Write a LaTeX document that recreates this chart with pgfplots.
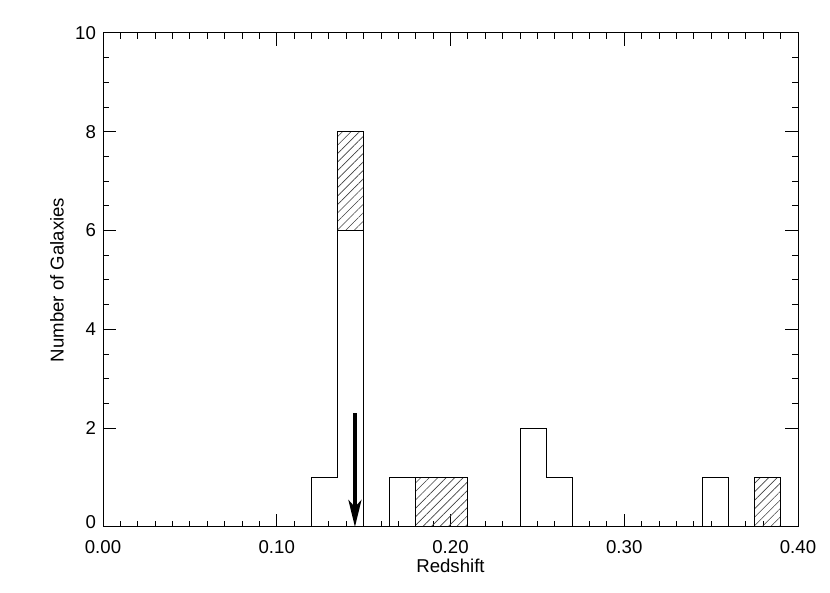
\documentclass[border=0pt]{standalone}
\usepackage{fontspec}
\setmainfont{Liberation Sans}
\usepackage{pgfplots}
\pgfplotsset{compat=1.18}
\usepgfplotslibrary{fillbetween}
\usetikzlibrary{patterns.meta,arrows.meta}
\begin{document}
\begin{tikzpicture}[font=\fontsize{9.3}{11}\selectfont]
% page frame, same proportions as the reference
\path (-51.5pt,-33pt) rectangle (363.5pt,263.5pt);
\begin{axis}[
    at={(0pt,0pt)}, anchor=south west,
    width=347.5pt, height=247pt, scale only axis,
    xmin=0, xmax=0.4, ymin=0, ymax=10,
    xtick={0,0.1,0.2,0.3,0.4}, minor x tick num=9,
    ytick={2,4,6,8,10}, minor y tick num=3,
    extra y ticks={0},
    extra y tick style={yticklabel style={yshift=2.7pt}},
    scaled x ticks=false,
    xticklabel style={/pgf/number format/fixed,
        /pgf/number format/fixed zerofill,
        /pgf/number format/precision=2, yshift=-3pt},
    /pgf/number format/assume math mode=true,
    major tick length=6.5pt, minor tick length=3.2pt,
    axis line style={line width=0.5pt},
    every tick/.style={black, line width=0.5pt},
    xlabel={Redshift}, ylabel={Number of Galaxies},
    every axis x label/.style={at={(axis description cs:0.5,0)},
        yshift=-19.5pt, anchor=center},
    every axis y label/.style={at={(axis description cs:0,0.5)},
        xshift=-23pt, rotate=90, anchor=center},
    clip=false,
]

% total sample (bin width 0.015)
\addplot[const plot, black, line width=0.5pt, name path=total] coordinates {
    (0,0)(0.12,1)(0.135,8)(0.15,0)(0.165,1)(0.21,0)(0.24,2)(0.255,1)
    (0.27,0)(0.345,1)(0.36,0)(0.375,1)(0.39,0)(0.4,0)
};
% open histogram
\addplot[const plot, black, line width=0.5pt, name path=open] coordinates {
    (0,0)(0.12,1)(0.135,6)(0.15,0)(0.165,1)(0.18,0)(0.24,2)(0.255,1)
    (0.27,0)(0.345,1)(0.36,0)(0.4,0)
};
% hatched part
\addplot[draw=none, pattern={Lines[angle=45, distance=3pt, line width=0.3pt]},
    pattern color=black!75] fill between[of=total and open];

% arrow
\addplot[black, line width=1.8pt,
    -{Stealth[length=13.5pt, width=6.5pt, inset=3.5pt]}] coordinates {
    (0.145,2.3)(0.145,0)
};

\end{axis}
\end{tikzpicture}
\end{document}
